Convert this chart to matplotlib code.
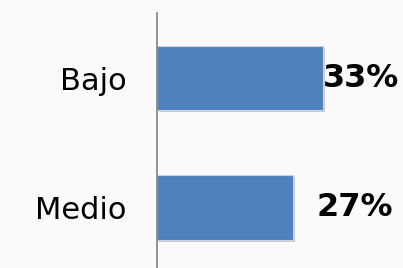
import matplotlib.pyplot as plt
from matplotlib import patheffects as pe

# datos
categorias = ['Bajo', 'Medio']
porcentajes = [33, 27]
etiquetas = ['33%', '27%']

fig = plt.figure(figsize=(4.03, 2.68), dpi=100)
fig.patch.set_facecolor('#fafafa')
ax = fig.add_axes([0.3896, 0.0, 0.6104, 0.9515])
ax.set_facecolor('none')

y = list(range(len(categorias)))
barras = ax.barh(y, porcentajes, height=0.5, color='#4F81BD',
                 edgecolor='#c6d5ea', linewidth=0.8)
for b in barras:
    b.set_path_effects([pe.SimplePatchShadow(offset=(1.5, -1.5), shadow_rgbFace='#999999', alpha=0.5),
                        pe.Normal()])

# etiquetas de valor
offsets = [0, 24]
for yi, v, txt, off in zip(y, porcentajes, etiquetas, offsets):
    ax.annotate(txt, (v, yi), xytext=(off * 0.72, 0), textcoords='offset points',
                ha='left', va='center', fontsize=23, fontweight='bold', color='black')

ax.set_xlim(0, 48.9)
ax.set_ylim(1.467, -0.502)
ax.set_yticks(y)
ax.set_yticklabels(categorias, fontsize=22)
ax.tick_params(axis='y', length=0, pad=22)
ax.set_xticks([])
for s in ['top', 'right', 'bottom']:
    ax.spines[s].set_visible(False)
ax.spines['left'].set_color('#808080')
ax.spines['left'].set_linewidth(1.2)

fig.savefig('out.png', dpi=100, facecolor=fig.get_facecolor())
